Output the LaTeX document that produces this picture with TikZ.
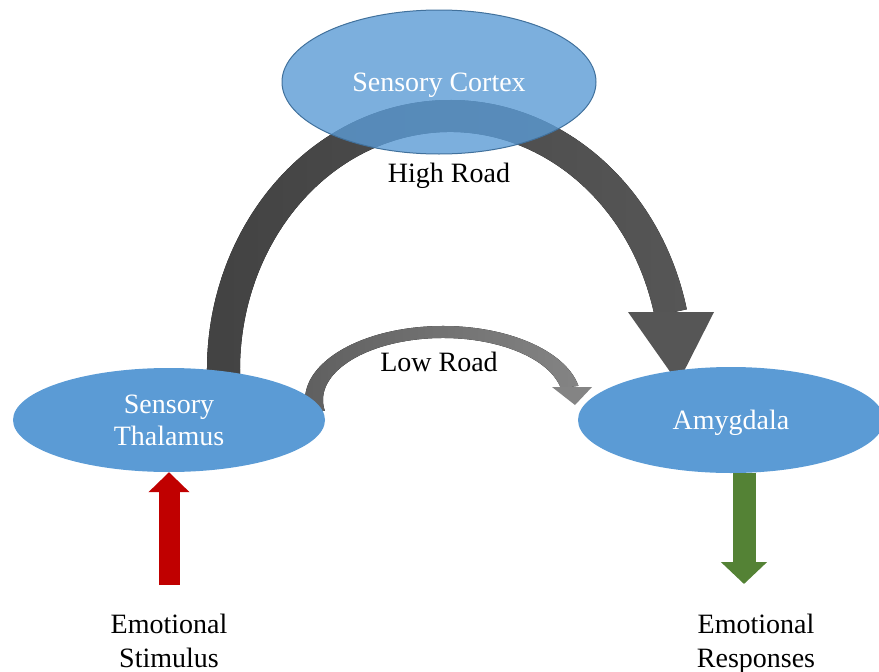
\documentclass[tikz,border=0pt]{standalone}
\usepackage{fontspec}
\setmainfont{Liberation Serif}
\usetikzlibrary{arrows.meta,shapes.geometric,calc}

\definecolor{nodeblue}{HTML}{5B9BD5}
\definecolor{nodeedge}{HTML}{41719C}
\definecolor{highdark}{HTML}{424242}
\definecolor{highlight}{HTML}{565656}
\definecolor{lowdark}{HTML}{5E5E5E}
\definecolor{lowlight}{HTML}{848484}
\definecolor{stimred}{HTML}{C00000}
\definecolor{respgreen}{HTML}{548235}

\tikzset{
  region/.style={ellipse, fill=nodeblue, inner sep=0pt, text=white,
    font=\fontsize{28}{32}\selectfont, align=center},
  label text/.style={font=\fontsize{28}{34}\selectfont, align=center, inner sep=0pt},
  stim arrow/.style={draw=stimred, line width=21pt,
    -{Triangle[length=20pt, width=40pt]}},
  resp arrow/.style={draw=respgreen, line width=23pt,
    -{Triangle[length=22pt, width=45pt]}},
}

\begin{document}
\begin{tikzpicture}[x=1pt, y=1pt]
\useasboundingbox (0,0) rectangle (879,-672);

% High road: thick arc from the thalamus over the cortex down to the amygdala
\fill[left color=highdark, right color=highlight]
  ($(450,-370)+(185:243 and 270)$)
  arc[start angle=185, end angle=13, x radius=243, y radius=270]
  -- ($(450,-370)+(13:210 and 238)$)
  arc[start angle=13, end angle=185, x radius=210, y radius=238] -- cycle;
\fill[highlight] (628,-312) -- (714,-312) -- (678,-383) -- cycle;

% Low road: thinner arc straight from the thalamus to the amygdala
\fill[left color=lowdark, right color=lowlight]
  ($(443,-400)+(190:138 and 74)$)
  arc[start angle=190, end angle=11, x radius=138, y radius=74]
  -- ($(443,-400)+(11:120 and 62)$)
  arc[start angle=11, end angle=190, x radius=120, y radius=62] -- cycle;
\fill[lowlight] (552,-387) -- (592,-387) -- (575,-405) -- cycle;

% Brain regions
\node[region, minimum width=312pt, minimum height=104pt] (thal) at (169,-420)
  {Sensory\\Thalamus};
\node[region, text depth=0pt, minimum width=306pt, minimum height=106pt]
  (amyg) at (731,-420) {Amygdala};
\node[region, text depth=0pt, fill opacity=0.8, text opacity=1, draw=nodeedge,
  line width=1pt, minimum width=314pt, minimum height=144pt] (cortex)
  at (439,-82) {Sensory Cortex};

% Path labels
\node[label text, text depth=0pt] (high) at (449,-173) {High Road};
\node[label text, text depth=0pt] (low) at (439,-362) {Low Road};

% Input and output
\node[label text] (stim) at (169,-646) {Emotional\\Stimulus\strut};
\node[label text] (resp) at (756,-646) {Emotional\\Responses\strut};
\coordinate (stimbase) at (169,-585);
\coordinate (resptip) at (744,-584);
\draw[stim arrow] (stimbase) -- (thal.south);
\draw[resp arrow] (amyg.south -| resptip) -- (resptip);
\end{tikzpicture}
\end{document}
